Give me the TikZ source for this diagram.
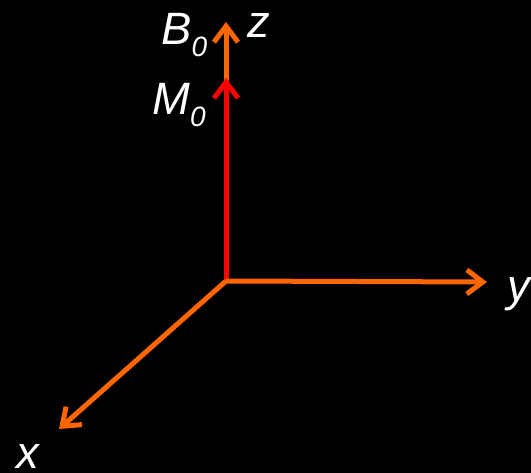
\documentclass[tikz,border=0pt]{standalone}
\usepackage{fontspec}
\setmainfont{Liberation Sans}
\usetikzlibrary{arrows.meta}
\definecolor{axisorange}{HTML}{FF6600}
\newcommand{\subzero}{\raisebox{-9pt}{\fontsize{21}{24}\selectfont 0}}

\begin{document}
\begin{tikzpicture}[x=0.75pt, y=-0.75pt,
  font=\fontsize{34}{40}\selectfont\itshape,
  lbl/.style={text=white, inner sep=0pt, anchor=base west},
  axis/.style={draw=axisorange, line width=3.75pt, -{Straight Barb[length=12pt, width=18pt]}},
  mag/.style={axis, draw=red},
]
  \fill[black] (0,0) rectangle (531,473);
  \useasboundingbox (0,0) rectangle (531,473);

  \coordinate (o) at (226,281);
  \coordinate (ztip) at (226,22);
  \coordinate (mtip) at (226,78);
  \coordinate (ytip) at (487,282);
  \coordinate (xtip) at (59,429);

  \draw[axis] (o) -- (ztip);
  \draw[mag] (o) -- (mtip);
  \draw[axis] (o) -- (ytip);
  \draw[axis] (o) -- (xtip);

  \node[lbl] (b0) at (161,45) {B\subzero};
  \node[lbl] (zlbl) at (247,38) {z};
  \node[lbl] (m0) at (152,115) {M\subzero};
  \node[lbl] (ylbl) at (507,302) {y};
  \node[lbl] (xlbl) at (16,468) {x};
\end{tikzpicture}
\end{document}
